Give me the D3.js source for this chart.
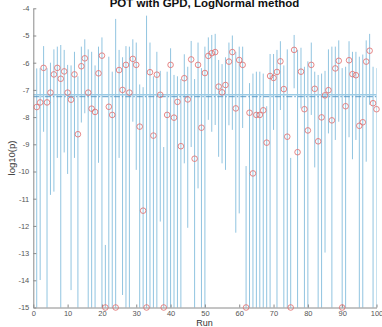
<!DOCTYPE html>
<html>
<head>
<meta charset="utf-8">
<style>
  body { margin: 0; background: #fff; }
  text { font-family: "Liberation Sans", Arial, sans-serif; }
</style>
</head>
<body>
<svg width="382" height="327"></svg>
<script src="https://d3js.org/d3.v7.min.js"></script>
<script>
// estimate of log10(p) per run
var runs = d3.range(1, 101);
var estimate = [-7.63,-7.46,-6.19,-7.46,-7.10,-6.43,-6.19,-6.59,-6.32,-7.10,
  -7.36,-6.43,-8.63,-6.13,-5.84,-7.10,-7.69,-7.81,-6.39,-5.74,
  -15,-7.62,-7.92,-15,-6.27,-7.00,-6.08,-7.10,-5.86,-6.08,
  -8.35,-11.44,-15,-6.35,-8.68,-6.44,-7.18,-15,-7.92,-6.08,
  -8.02,-7.44,-9.07,-6.57,-7.35,-5.88,-9.53,-6.08,-8.39,-6.38,
  -5.75,-5.65,-5.61,-6.88,-7.09,-6.82,-5.96,-5.61,-7.68,-5.90,
  -6.08,-15,-7.84,-10.07,-7.92,-7.92,-7.75,-8.94,-6.49,-6.56,
  -6.34,-5.95,-6.97,-8.72,-15,-5.53,-9.29,-6.33,-7.71,-8.49,
  -6.08,-6.96,-8.89,-8.01,-7.20,-7.01,-8.12,-6.21,-5.93,-15,
  -7.60,-5.91,-6.42,-6.46,-8.32,-8.19,-5.96,-5.56,-7.49,-7.71];
var upper = [-6.21,-6.2,-5.39,-6.2,-6.0,-5.51,-5.41,-5.35,-5.53,-6.08,
  -6.1,-5.6,-6.5,-5.41,-5.14,-5.51,-5.6,-6.1,-5.41,-5.07,
  -12.7,-5.78,-6.33,-4.39,-5.53,-5.8,-5.39,-5.41,-5.14,-5.26,
  -6.8,-6.9,-4.27,-5.26,-6.5,-5.6,-6.3,-9.1,-6.33,-5.47,
  -6.45,-6.5,-6.6,-5.69,-6.15,-5.2,-6.6,-5.26,-6.2,-5.41,
  -5.07,-4.98,-4.94,-5.9,-6.05,-5.8,-5.26,-5.0,-5.6,-5.41,
  -5.41,-9.8,-6.75,-6.4,-6.33,-6.33,-6.4,-7.6,-5.68,-5.68,
  -5.53,-5.21,-6.1,-5.51,-9.5,-4.98,-5.53,-5.45,-6.15,-5.95,
  -5.26,-6.33,-6.45,-6.4,-6.3,-5.51,-5.41,-5.41,-5.18,-6.2,
  -6.15,-5.21,-5.6,-5.6,-5.78,-5.7,-5.18,-4.94,-6.15,-6.2];
var lower = [-16,-13.99,-8.54,-16,-10.86,-10.74,-9.5,-16,-9.3,-10.09,
  -14.36,-9.5,-16,-8.2,-7.86,-16,-16,-16,-9.68,-16,
  -16,-16,-16,-16,-9.5,-14.54,-16,-16,-8.17,-9.94,
  -16,-16,-16,-16,-16,-16,-11.84,-16,-16,-16,
  -16,-16,-16,-9.7,-12.07,-9.1,-16,-10.62,-16,-16,
  -8.1,-8.54,-8.29,-9.46,-9.7,-9.94,-8.3,-8.47,-12.25,-11.54,
  -8.4,-16,-16,-16,-16,-16,-16,-16,-16,-8.47,
  -16,-7.74,-16,-16,-16,-6.94,-16,-7.68,-16,-16,
  -7.92,-9.85,-16,-16,-12.98,-8.6,-16,-8.84,-8.17,-16,
  -16,-8.74,-9.55,-8.84,-16,-16,-9.64,-7.55,-16,-16];
var refLevels = [-7.18, -7.25];
var xTicks = d3.range(0, 101, 10);
var yTicks = d3.range(-15, -3, 1);

var svg = d3.select("svg");
var x = d3.scaleLinear().domain([0, 100]).range([33.3, 376.5]),
    y = d3.scaleLinear().domain([-15, -4]).range([307.5, 8.3]);

svg.append("defs").append("clipPath").attr("id", "plot")
  .append("rect").attr("x", 33.3).attr("y", 8.3)
  .attr("width", 343.2).attr("height", 299.2);

var plot = svg.append("g").attr("clip-path", "url(#plot)");

// error bars
plot.selectAll("line.bar").data(runs).enter().append("line")
  .attr("class", "bar")
  .attr("x1", function(d) { return x(d); })
  .attr("x2", function(d) { return x(d); })
  .attr("y1", function(d, i) { return y(upper[i]); })
  .attr("y2", function(d, i) { return y(lower[i]); })
  .attr("stroke", "#85bddc")
  .attr("stroke-width", 0.9);

// reference levels
plot.append("line")
  .attr("x1", x(0)).attr("x2", x(100))
  .attr("y1", y(refLevels[0])).attr("y2", y(refLevels[0]))
  .attr("stroke", "#9ccbe5").attr("stroke-width", 1.5);
plot.append("line")
  .attr("x1", x(0)).attr("x2", x(100))
  .attr("y1", y(refLevels[1])).attr("y2", y(refLevels[1]))
  .attr("stroke", "#5a9cc8").attr("stroke-width", 1)
  .attr("stroke-dasharray", "6,2,1.5,2");

// axes, plain hyphen for the minus sign like the original
var fmt = function(d) { return String(d); };
var xAxis = svg.append("g").attr("transform", "translate(0," + y(-15) + ")")
  .call(d3.axisBottom(x).tickValues(xTicks).tickFormat(fmt).tickSize(-3).tickSizeOuter(0).tickPadding(3));
var yAxis = svg.append("g").attr("transform", "translate(" + x(0) + ",0)")
  .call(d3.axisLeft(y).tickValues(yTicks).tickFormat(fmt).tickSize(-3).tickSizeOuter(0).tickPadding(4));
[xAxis, yAxis].forEach(function(a) {
  a.select(".domain").attr("stroke", "#8a8a8a");
  a.selectAll(".tick line").attr("stroke", "#8a8a8a");
  a.selectAll(".tick text").attr("fill", "#555").attr("font-size", 7.5)
    .style("font-family", "Liberation Sans, Arial, sans-serif");
});

// estimates
svg.selectAll("circle").data(runs).enter().append("circle")
  .attr("cx", function(d) { return x(d); })
  .attr("cy", function(d, i) { return y(estimate[i]); })
  .attr("r", 2.8)
  .attr("fill", "none")
  .attr("stroke", "#e06a6a")
  .attr("stroke-width", 0.8);

// labels
svg.append("text").attr("x", 204.5).attr("y", 7)
  .attr("text-anchor", "middle").attr("font-weight", "bold")
  .attr("font-size", 11.5).attr("fill", "#111")
  .text("POT with GPD, LogNormal method");
svg.append("text").attr("x", 204.5).attr("y", 326)
  .attr("text-anchor", "middle").attr("font-size", 9).attr("fill", "#333")
  .text("Run");
svg.append("text").attr("transform", "translate(15,158) rotate(-90)")
  .attr("text-anchor", "middle").attr("font-size", 9.5).attr("fill", "#333")
  .text("log10(p)");
</script>
</body>
</html>
